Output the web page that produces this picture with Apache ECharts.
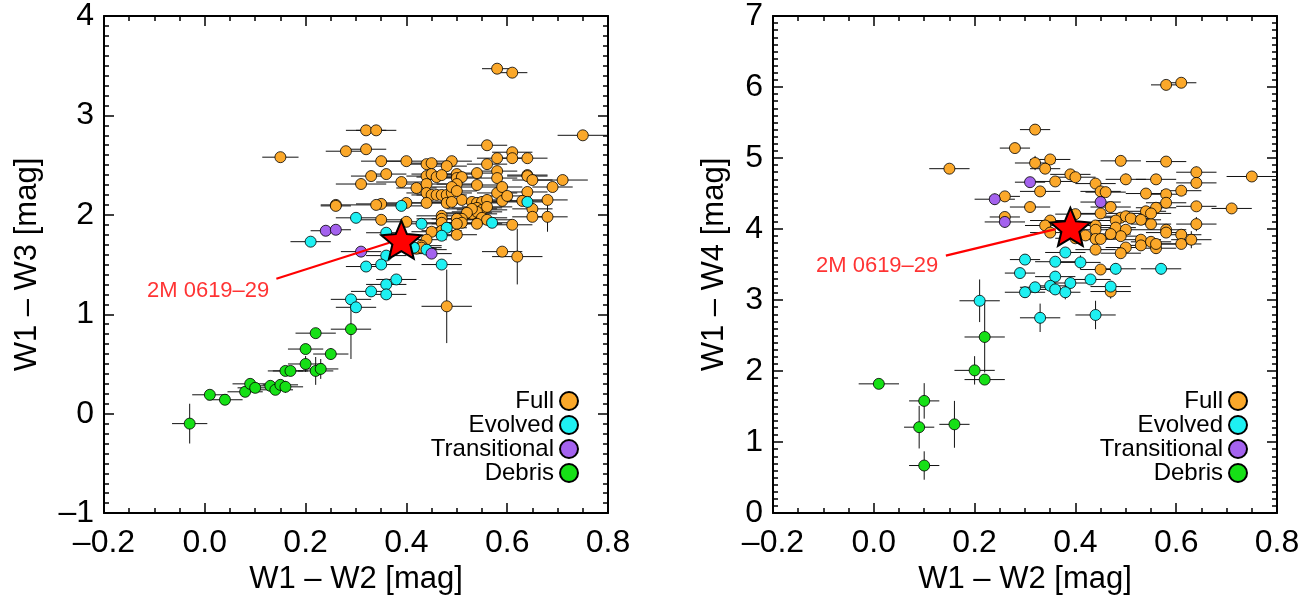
<!DOCTYPE html>
<html><head><meta charset="utf-8">
<script src="https://cdn.jsdelivr.net/npm/echarts@6/dist/echarts.min.js"></script>
<style>html,body{margin:0;padding:0;background:#fff}#c{width:1312px;height:600px}</style>
</head><body><div id="c"></div>
<script>
// rows: [W1-W2, colour, xerr, yerr]
const leftFull = [
[0.15,2.58,0.036,0.03],[0.32,2.85,0.04,0.03],[0.28,2.64,0.04,0.03],[0.32,2.66,0.04,0.03],[0.31,2.31,0.05,0.03],
[0.26,2.10,0.03,0.03],[0.26,2.09,0.03,0.03],[0.58,3.47,0.03,0.02],[0.61,3.43,0.03,0.02],[0.34,2.85,0.04,0.02],
[0.75,2.80,0.05,0.03],[0.56,2.70,0.04,0.03],[0.61,2.63,0.04,0.03],[0.61,2.57,0.04,0.03],[0.64,2.57,0.04,0.03],
[0.58,2.57,0.04,0.03],[0.56,2.51,0.04,0.03],[0.35,2.54,0.04,0.03],[0.40,2.54,0.04,0.03],[0.44,2.51,0.04,0.03],
[0.45,2.52,0.04,0.03],[0.49,2.54,0.04,0.03],[0.48,2.49,0.04,0.03],[0.33,2.39,0.04,0.03],[0.36,2.41,0.04,0.03],
[0.39,2.33,0.05,0.03],[0.42,2.27,0.04,0.03],[0.44,2.39,0.04,0.03],[0.45,2.41,0.04,0.03],[0.46,2.38,0.04,0.03],
[0.47,2.40,0.04,0.03],[0.44,2.31,0.04,0.03],[0.44,2.22,0.04,0.03],[0.45,2.20,0.04,0.03],[0.46,2.20,0.04,0.03],
[0.47,2.20,0.04,0.03],[0.48,2.20,0.04,0.03],[0.49,2.22,0.04,0.03],[0.50,2.41,0.04,0.03],[0.50,2.37,0.04,0.03],
[0.51,2.38,0.04,0.03],[0.50,2.31,0.04,0.03],[0.49,2.28,0.04,0.03],[0.51,2.15,0.04,0.03],[0.50,2.24,0.04,0.03],
[0.54,2.42,0.04,0.03],[0.54,2.30,0.04,0.03],[0.58,2.44,0.04,0.03],[0.58,2.37,0.04,0.03],[0.58,2.22,0.04,0.03],
[0.59,2.28,0.04,0.03],[0.59,2.14,0.04,0.03],[0.60,2.19,0.04,0.03],[0.64,2.40,0.04,0.05],[0.64,2.39,0.04,0.05],
[0.65,2.35,0.04,0.03],[0.71,2.35,0.05,0.03],[0.69,2.28,0.04,0.05],[0.64,2.23,0.04,0.03],[0.68,2.15,0.04,0.03],
[0.63,2.14,0.04,0.03],[0.65,2.06,0.04,0.04],[0.65,1.98,0.04,0.04],[0.68,1.98,0.04,0.15],[0.61,1.90,0.04,0.03],
[0.59,1.63,0.04,0.03],[0.62,1.58,0.05,0.28],[0.48,1.08,0.05,0.37],[0.53,2.13,0.05,0.03],[0.54,2.12,0.05,0.03],
[0.55,2.13,0.05,0.03],[0.56,2.15,0.05,0.03],[0.54,2.07,0.05,0.03],[0.55,2.05,0.05,0.03],[0.56,2.08,0.05,0.03],
[0.53,2.01,0.05,0.03],[0.54,2.03,0.05,0.03],[0.55,1.97,0.05,0.03],[0.56,1.95,0.05,0.03],[0.53,2.06,0.05,0.03],
[0.52,2.02,0.05,0.03],[0.51,1.96,0.05,0.03],[0.50,1.96,0.05,0.03],[0.51,1.92,0.05,0.03],[0.54,1.91,0.05,0.03],
[0.47,1.99,0.05,0.03],[0.47,1.96,0.05,0.03],[0.47,1.92,0.05,0.03],[0.50,1.91,0.05,0.03],[0.47,1.84,0.04,0.03],
[0.45,1.83,0.04,0.03],[0.44,1.75,0.04,0.03],[0.43,1.69,0.04,0.03],[0.42,1.66,0.04,0.03],[0.43,1.67,0.04,0.03],
[0.50,1.80,0.04,0.03],[0.40,1.93,0.04,0.03],[0.35,1.95,0.04,0.03],[0.44,2.12,0.05,0.03],[0.40,2.12,0.05,0.03],
[0.35,2.11,0.05,0.03],[0.34,2.10,0.05,0.03],[0.48,2.12,0.05,0.03],[0.49,2.13,0.05,0.03]
];
const leftEvolved = [
[0.30,1.97,0.04,0.03],[0.21,1.73,0.04,0.03],[0.39,2.09,0.05,0.03],[0.43,1.91,0.04,0.03],[0.36,1.82,0.04,0.03],
[0.48,1.87,0.04,0.03],[0.47,1.79,0.04,0.03],[0.57,1.92,0.04,0.03],[0.64,2.13,0.04,0.03],[0.36,1.59,0.04,0.03],
[0.35,1.50,0.04,0.03],[0.32,1.48,0.04,0.03],[0.47,1.50,0.04,0.03],[0.38,1.35,0.04,0.03],[0.36,1.30,0.04,0.03],
[0.33,1.23,0.04,0.03],[0.36,1.20,0.04,0.03],[0.29,1.15,0.04,0.03],[0.30,1.07,0.04,0.03],[0.415,1.67,0.04,0.03],
[0.44,1.65,0.04,0.03]
];
const leftTransitional = [[0.24,1.84,0.03,0.05],[0.26,1.85,0.03,0.03],[0.31,1.63,0.04,0.03],[0.45,1.61,0.04,0.03]];
const leftDebris = [
[-0.03,-0.10,0.035,0.20],[0.01,0.19,0.035,0.03],[0.04,0.14,0.035,0.03],[0.08,0.22,0.035,0.03],[0.09,0.30,0.035,0.03],
[0.10,0.26,0.035,0.03],[0.13,0.28,0.035,0.03],[0.14,0.24,0.035,0.03],[0.15,0.29,0.035,0.03],[0.16,0.27,0.035,0.06],
[0.16,0.43,0.035,0.03],[0.17,0.43,0.035,0.03],[0.20,0.65,0.035,0.03],[0.20,0.50,0.035,0.08],[0.22,0.43,0.035,0.14],
[0.23,0.45,0.035,0.10],[0.22,0.81,0.04,0.03],[0.25,0.60,0.035,0.06],[0.29,0.85,0.04,0.30]
];
const rightFull = [
[0.15,4.85,0.04,0.05],[0.32,5.40,0.03,0.05],[0.28,5.14,0.03,0.05],[0.32,4.93,0.04,0.10],[0.35,4.98,0.04,0.05],
[0.34,4.85,0.03,0.05],[0.39,4.77,0.04,0.05],[0.40,4.73,0.04,0.05],[0.49,4.96,0.04,0.05],[0.58,4.95,0.04,0.05],
[0.58,6.03,0.03,0.05],[0.61,6.06,0.03,0.05],[0.64,4.80,0.04,0.08],[0.64,4.65,0.04,0.08],[0.75,4.74,0.05,0.05],
[0.50,4.70,0.04,0.08],[0.56,4.70,0.04,0.05],[0.36,4.67,0.04,0.05],[0.33,4.53,0.04,0.05],[0.44,4.64,0.04,0.05],
[0.45,4.53,0.04,0.05],[0.46,4.52,0.04,0.05],[0.54,4.50,0.04,0.05],[0.58,4.49,0.04,0.05],[0.61,4.54,0.04,0.05],
[0.58,4.37,0.04,0.08],[0.64,4.32,0.04,0.05],[0.56,4.30,0.04,0.05],[0.71,4.29,0.04,0.05],[0.31,4.31,0.04,0.05],
[0.47,4.31,0.04,0.05],[0.45,4.22,0.04,0.05],[0.64,4.07,0.04,0.10],[0.55,4.07,0.04,0.05],[0.54,4.25,0.04,0.05],
[0.55,4.22,0.04,0.05],[0.49,4.16,0.04,0.05],[0.50,4.18,0.04,0.05],[0.51,4.15,0.04,0.05],[0.48,4.12,0.04,0.05],
[0.53,4.13,0.04,0.05],[0.48,4.02,0.04,0.05],[0.50,3.99,0.04,0.05],[0.49,3.90,0.04,0.05],[0.47,3.93,0.04,0.05],
[0.44,4.05,0.04,0.05],[0.44,3.99,0.04,0.05],[0.44,3.86,0.04,0.05],[0.45,3.86,0.04,0.05],[0.40,4.21,0.04,0.05],
[0.35,4.12,0.04,0.05],[0.34,4.05,0.04,0.05],[0.35,3.95,0.04,0.05],[0.40,3.87,0.04,0.05],[0.42,3.91,0.04,0.05],
[0.53,3.85,0.04,0.05],[0.53,3.77,0.04,0.05],[0.55,3.82,0.04,0.05],[0.56,3.73,0.04,0.08],[0.56,3.79,0.04,0.05],
[0.58,3.99,0.04,0.05],[0.58,3.95,0.04,0.05],[0.61,3.92,0.04,0.05],[0.61,3.79,0.04,0.05],[0.63,3.85,0.04,0.12],
[0.50,3.74,0.04,0.05],[0.49,3.66,0.04,0.05],[0.44,3.71,0.04,0.05],[0.45,3.43,0.04,0.05],[0.47,3.12,0.04,0.10],
[0.26,4.46,0.03,0.05],[0.26,4.17,0.03,0.05]
];
const rightEvolved = [
[0.21,2.99,0.04,0.30],[0.38,3.67,0.04,0.05],[0.30,3.57,0.03,0.05],[0.29,3.38,0.03,0.05],[0.36,3.54,0.04,0.05],
[0.41,3.53,0.04,0.10],[0.36,3.33,0.04,0.08],[0.39,3.24,0.04,0.08],[0.43,3.29,0.04,0.05],[0.48,3.44,0.04,0.08],
[0.57,3.44,0.04,0.08],[0.30,3.11,0.04,0.08],[0.32,3.18,0.03,0.05],[0.35,3.20,0.03,0.05],[0.36,3.15,0.03,0.08],
[0.38,3.11,0.03,0.10],[0.47,3.19,0.04,0.08],[0.33,2.75,0.04,0.20],[0.44,2.79,0.04,0.20]
];
const rightTransitional = [[0.31,4.66,0.03,0.05],[0.45,4.38,0.04,0.10],[0.24,4.42,0.04,0.08],[0.26,4.10,0.04,0.08]];
const rightDebris = [
[0.01,1.82,0.04,0.05],[0.10,1.58,0.03,0.25],[0.09,1.21,0.03,0.30],[0.16,1.25,0.03,0.33],[0.10,0.67,0.03,0.20],
[0.20,2.01,0.04,0.20],[0.22,2.48,0.04,0.50],[0.22,1.88,0.04,0.06]
];
const leftStar = [[0.39, 1.75]];
const rightStar = [[0.39, 4.03]];
const leftPointer = [[0.142, 1.357], [0.366, 1.719]];
const rightPointer = [[0.143, 3.625], [0.361, 3.998]];
const leftLabelAt = [[0.129, 1.237]];
const rightLabelAt = [[0.129, 3.479]];
const starName = '2M 0619–29';
const classNames = ['Full', 'Evolved', 'Transitional', 'Debris'];
const classColors = ['#FBA82A', '#1EF0F2', '#A462EE', '#16E016'];
const xTitle = 'W1 – W2 [mag]';
const yTitles = ['W1 – W3 [mag]', 'W1 – W4 [mag]'];

const FONT = 'Liberation Sans, Arial, Helvetica, sans-serif';
const chart = echarts.init(document.getElementById('c'), null, {renderer: 'canvas'});
const fmt = v => (v < 0 ? '–' : '') + Math.abs(v).toFixed(1);
const fmtY = v => (v < 0 ? '–' : '') + Math.abs(Math.round(v));

function xAx(gi, top) {
  return {
    gridIndex: gi, type: 'value', min: -0.2, max: 0.8, interval: 0.2,
    position: top ? 'top' : 'bottom',
    name: top ? '' : xTitle, nameLocation: 'middle', nameGap: 44,
    nameTextStyle: {fontFamily: FONT, fontSize: 31, color: '#000'},
    axisLine: {show: true, onZero: false, lineStyle: {color: '#000', width: 2}},
    axisTick: {show: true, inside: true, length: 10, lineStyle: {color: '#000', width: 1.5}},
    minorTick: {show: true, splitNumber: 4, length: 5, lineStyle: {color: '#000', width: 1.5}},
    axisLabel: {show: !top, margin: 14, fontFamily: FONT, fontSize: 32, color: '#000', formatter: fmt},
    splitLine: {show: false}
  };
}
function yAx(gi, right, max, min, gap) {
  return {
    gridIndex: gi, type: 'value', min: min, max: max, interval: 1,
    position: right ? 'right' : 'left',
    name: right ? '' : yTitles[gi], nameLocation: 'middle', nameGap: gap, nameMoveOverlap: false,
    nameTextStyle: {fontFamily: FONT, fontSize: 31, color: '#000'},
    axisLine: {show: true, onZero: false, lineStyle: {color: '#000', width: 2}},
    axisTick: {show: true, inside: true, length: 10, lineStyle: {color: '#000', width: 1.5}},
    minorTick: {show: true, splitNumber: 10, length: 5, lineStyle: {color: '#000', width: 1.5}},
    axisLabel: {show: !right, margin: 10, fontFamily: FONT, fontSize: 32, color: '#000', formatter: fmtY},
    splitLine: {show: false}
  };
}
function errRender(params, api) {
  const x = api.value(0), y = api.value(1), ex = api.value(2), ey = api.value(3);
  const l = api.coord([x - ex, y]), r = api.coord([x + ex, y]);
  const t = api.coord([x, y + ey]), b = api.coord([x, y - ey]);
  const st = {stroke: '#111', lineWidth: 1};
  return {type: 'group', children: [
    {type: 'line', shape: {x1: l[0], y1: l[1], x2: r[0], y2: r[1]}, style: st},
    {type: 'line', shape: {x1: t[0], y1: t[1], x2: b[0], y2: b[1]}, style: st}
  ]};
}
const STAR = 'path://M50 0L63.23 31.8L97.55 34.55L71.4 56.95L79.39 90.45L50 72.5L20.61 90.45L28.6 56.95L2.45 34.55L36.77 31.8Z';

const series = [];
const panels = [
  {xi: 0, yi: 0, sets: [leftFull, leftEvolved, leftTransitional, leftDebris], star: leftStar, ptr: leftPointer, lab: leftLabelAt},
  {xi: 2, yi: 2, sets: [rightFull, rightEvolved, rightTransitional, rightDebris], star: rightStar, ptr: rightPointer, lab: rightLabelAt}
];
panels.forEach(p => {
  p.sets.forEach((d, k) => {
    series.push({type: 'custom', xAxisIndex: p.xi, yAxisIndex: p.yi, renderItem: errRender, data: d, clip: true, silent: true});
    series.push({type: 'scatter', name: classNames[k], xAxisIndex: p.xi, yAxisIndex: p.yi, data: d.map(r => [r[0], r[1]]),
      symbol: 'circle', symbolSize: 11,
      itemStyle: {color: classColors[k], borderColor: '#000', borderWidth: 0.8, opacity: 1}});
  });
  series.push({type: 'line', xAxisIndex: p.xi, yAxisIndex: p.yi, data: p.ptr, symbol: 'none',
    lineStyle: {color: '#FF0000', width: 2.2}, silent: true});
  series.push({type: 'scatter', xAxisIndex: p.xi, yAxisIndex: p.yi, data: p.star, symbol: STAR, symbolSize: [40, 38],
    itemStyle: {color: '#FF0000', borderColor: '#000', borderWidth: 2, opacity: 1}, z: 5});
  series.push({type: 'scatter', xAxisIndex: p.xi, yAxisIndex: p.yi, data: p.lab, symbolSize: 1,
    itemStyle: {color: 'rgba(0,0,0,0)'},
    label: {show: true, position: 'left', distance: 0, formatter: starName, fontFamily: FONT, fontSize: 22, color: '#FF0000'}});
});

function legendAt(right) {
  return {
    orient: 'vertical', align: 'right', right: right, top: 389, itemWidth: 18, itemHeight: 18, itemGap: 0,
    icon: 'circle', data: classNames, selectedMode: false,
    textStyle: {fontFamily: FONT, fontSize: 24, lineHeight: 24, color: '#000', padding: [0, 1, 0, 0]},
    padding: 0
  };
}

chart.setOption({
  animation: false,
  backgroundColor: '#fff',
  grid: [
    {left: 104, top: 11, width: 504, height: 503},
    {left: 773, top: 11, width: 504, height: 503}
  ],
  xAxis: [xAx(0, false), xAx(0, true), xAx(1, false), xAx(1, true)],
  yAxis: [yAx(0, false, 4, -1, 61), yAx(0, true, 4, -1, 0), yAx(1, false, 7, 0, 43), yAx(1, true, 7, 0, 0)],
  legend: [legendAt(1312 - 579), legendAt(1312 - 1248)],
  series: series
});
</script>
</body></html>
